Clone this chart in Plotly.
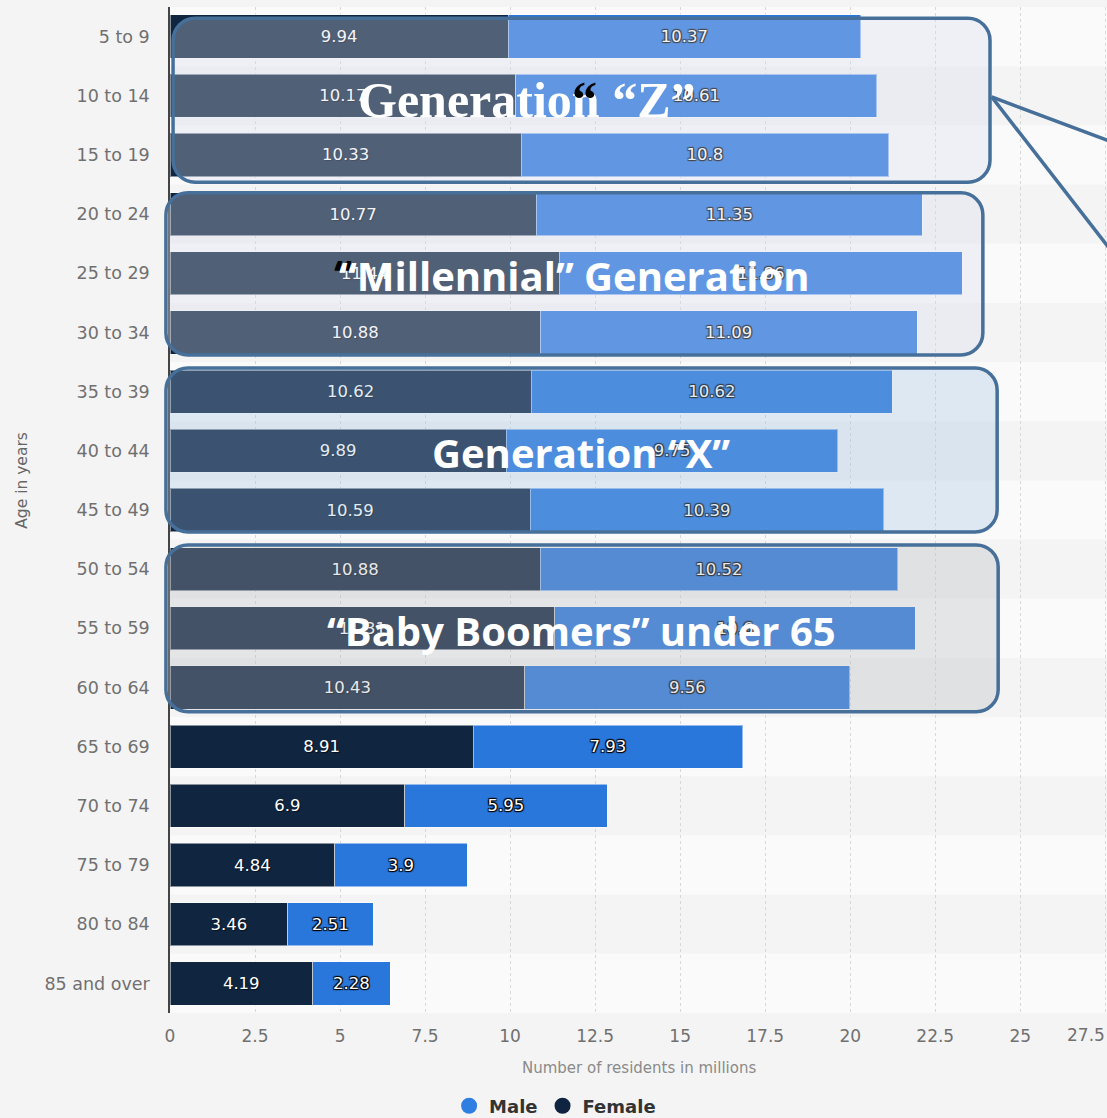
import plotly.graph_objects as go

# Resident population by age group and sex (millions)
ages = ["5 to 9", "10 to 14", "15 to 19", "20 to 24", "25 to 29", "30 to 34",
        "35 to 39", "40 to 44", "45 to 49", "50 to 54", "55 to 59", "60 to 64",
        "65 to 69", "70 to 74", "75 to 79", "80 to 84", "85 and over"]
female = [9.94, 10.17, 10.33, 10.77, 11.44, 10.88, 10.62, 9.89, 10.59,
          10.88, 11.31, 10.43, 8.91, 6.9, 4.84, 3.46, 4.19]
male = [10.37, 10.61, 10.8, 11.35, 11.86, 11.09, 10.62, 9.75, 10.39,
        10.52, 10.6, 9.56, 7.93, 5.95, 3.9, 2.51, 2.28]
x_ticks = [0, 2.5, 5, 7.5, 10, 12.5, 15, 17.5, 20, 22.5, 25, 27.5]

# Generation groupings: (label, first row, last row)
generations = [
    ("Generation \u201cZ\u201d", "5 to 9", "15 to 19"),
    ("\u201cMillennial\u201d Generation", "20 to 24", "30 to 34"),
    ("Generation \u201cX\u201d", "35 to 39", "45 to 49"),
    ("\u201cBaby Boomers\u201d under 65", "50 to 54", "60 to 64"),
]

W, H = 1107, 1118
ML, MR, MT, MB = 170, 0, 7, 105
PW, PH = W - ML - MR, H - MT - MB
X_MAX = 27.55
N = len(ages)

FEMALE_C = "#10253f"
MALE_C = "#2a77dc"
BORDER_C = "#46709a"
TICK_C = "#707070"


def px(v):
    """data x -> paper x"""
    return v / X_MAX


def py(r):
    """row coordinate (0 = top row centre) -> paper y"""
    return 1 - (r + 0.5) / N


def rounded_rect(x0, x1, y_top, y_bot, rad=22):
    rx, ry = rad / PW, rad / PH
    k = 0.5523
    return (f"M {x0+rx},{y_top} L {x1-rx},{y_top} "
            f"C {x1-rx+k*rx},{y_top} {x1},{y_top-ry+k*ry} {x1},{y_top-ry} "
            f"L {x1},{y_bot+ry} "
            f"C {x1},{y_bot+ry-k*ry} {x1-rx+k*rx},{y_bot} {x1-rx},{y_bot} "
            f"L {x0+rx},{y_bot} "
            f"C {x0+rx-k*rx},{y_bot} {x0},{y_bot+ry-k*ry} {x0},{y_bot+ry} "
            f"L {x0},{y_top-ry} "
            f"C {x0},{y_top-ry+k*ry} {x0+rx-k*rx},{y_top} {x0+rx},{y_top} Z")


fig = go.Figure()

fig.add_trace(go.Bar(
    y=ages, x=female, name="Female", orientation="h",
    marker=dict(color=FEMALE_C, line=dict(color="rgba(255,255,255,0.5)", width=1)),
    text=[str(v) for v in female], textposition="inside", insidetextanchor="middle",
    textfont=dict(family="DejaVu Sans", size=16.5, color="white",
                  shadow="1px 1px 1px rgba(0,0,0,0.6)"),
    showlegend=False,
))
fig.add_trace(go.Bar(
    y=ages, x=male, name="Male", orientation="h",
    marker=dict(color=MALE_C, line=dict(color="rgba(255,255,255,0.5)", width=1)),
    text=[str(v) for v in male], textposition="inside", insidetextanchor="middle",
    textfont=dict(family="DejaVu Sans", size=16.5, color="white",
                  shadow="1px 1px 1px #000, -1px -1px 1px #000, 1px -1px 1px #000, -1px 1px 1px #000"),
    showlegend=False,
))

# legend entries with round markers
fig.add_trace(go.Scatter(x=[None], y=[None], mode="markers", name="Male",
                         marker=dict(symbol="circle", size=16, color="#2f7ee2")))
fig.add_trace(go.Scatter(x=[None], y=[None], mode="markers", name="Female",
                         marker=dict(symbol="circle", size=16, color="#0e2440")))

shapes = []
# alternating row bands
for i in range(N):
    if i % 2 == 0:
        shapes.append(dict(type="rect", xref="paper", yref="paper", layer="below",
                           x0=0, x1=1, y0=py(i + 0.5), y1=py(i - 0.5),
                           fillcolor="#fafafa", line=dict(width=0)))

# generation boxes: (x from, x to, row top, row bottom, fill)
box_specs = [
    (0.09, 24.11, -0.31, 2.46, "rgba(214,222,238,0.32)"),
    (-0.12, 23.90, 2.64, 5.38, "rgba(214,222,238,0.32)"),
    (-0.12, 24.32, 5.60, 8.37, "rgba(160,193,226,0.30)"),
    (-0.12, 24.35, 8.59, 11.41, "rgba(182,184,190,0.31)"),
]
for x0, x1, r0, r1, fill in box_specs:
    shapes.append(dict(type="path", xref="paper", yref="paper", layer="above",
                       path=rounded_rect(px(x0), px(x1), py(r0), py(r1)),
                       fillcolor=fill, line=dict(color=BORDER_C, width=3.5)))

# connector lines leaving the Gen Z box
ox, oy = px(24.16), py(1.02)
for slope in (0.374, 1.287):
    dx_px = 170
    shapes.append(dict(type="line", xref="paper", yref="paper", layer="above",
                       x0=ox, y0=oy, x1=ox + dx_px / PW, y1=oy - slope * dx_px / PH,
                       line=dict(color=BORDER_C, width=3.5)))

annotations = []
# generation titles
annotations.append(dict(x=10.47, y="10 to 14", xref="x", yref="y", yshift=-4,
                        text=generations[0][0], showarrow=False,
                        font=dict(family="Liberation Serif", size=50, color="white", weight="bold")))
annotations.append(dict(x=12.2, y="10 to 14", xref="x", yref="y", yshift=-3,
                        text="\u201c", showarrow=False,
                        font=dict(family="Liberation Serif", size=50, color="black", weight="bold")))
annotations.append(dict(x=5.1, y="25 to 29", xref="x", yref="y", yshift=0,
                        text="\u201c", showarrow=False,
                        font=dict(family="Open Sans", size=40, color="black", weight="bold")))
for (label, _, _), xv, row in zip(generations[1:], [11.88, 12.08, 12.11],
                                  ["25 to 29", "40 to 44", "55 to 59"]):
    annotations.append(dict(x=xv, y=row, xref="x", yref="y", yshift=-2,
                            text=label, showarrow=False,
                            font=dict(family="Open Sans", size=40, color="white", weight="bold")))

# axis titles and last tick label
annotations.append(dict(x=0.5, y=-0.0545, xref="paper", yref="paper", yanchor="middle",
                        text="Number of residents in millions", showarrow=False,
                        font=dict(family="DejaVu Sans", size=15, color="#8a8a8a")))
annotations.append(dict(x=-0.158, y=0.53, xref="paper", yref="paper", textangle=-90,
                        xanchor="center", yanchor="middle",
                        text="Age in years", showarrow=False,
                        font=dict(family="DejaVu Sans", size=15.5, color="#666")))
annotations.append(dict(x=1, y=py(N - 0.5), xref="paper", yref="paper", xanchor="right",
                        yanchor="top", yshift=-10, text="27.5", showarrow=False,
                        font=dict(family="DejaVu Sans", size=17, color=TICK_C)))

fig.update_layout(
    width=W, height=H,
    margin=dict(l=ML, r=MR, t=MT, b=MB, autoexpand=False),
    paper_bgcolor="#f4f4f4", plot_bgcolor="#f4f4f4",
    barmode="stack", bargap=0.27,
    shapes=shapes, annotations=annotations,
    legend=dict(orientation="h", x=0.411, xanchor="center", y=-0.0925, yanchor="middle",
                traceorder="normal",
                font=dict(family="DejaVu Sans", size=18, color="#333", weight="bold"),
                itemsizing="trace", bgcolor="rgba(0,0,0,0)"),
    font=dict(family="DejaVu Sans"),
)
fig.update_xaxes(range=[0, X_MAX], tickvals=x_ticks,
                 ticktext=[("" if t == 27.5 else f"{t:g}") for t in x_ticks],
                 showgrid=True, gridcolor="#d8d8d8", griddash="dot", gridwidth=1,
                 zeroline=False, ticks="", ticklabelstandoff=11,
                 tickfont=dict(family="DejaVu Sans", size=17, color=TICK_C))
fig.update_yaxes(categoryorder="array", categoryarray=ages, autorange="reversed",
                 showline=True, linecolor="#444", linewidth=1.5, showgrid=False,
                 ticks="", ticklabelstandoff=15,
                 tickfont=dict(family="DejaVu Sans", size=17.5, color=TICK_C))

fig.write_html("out.html")
